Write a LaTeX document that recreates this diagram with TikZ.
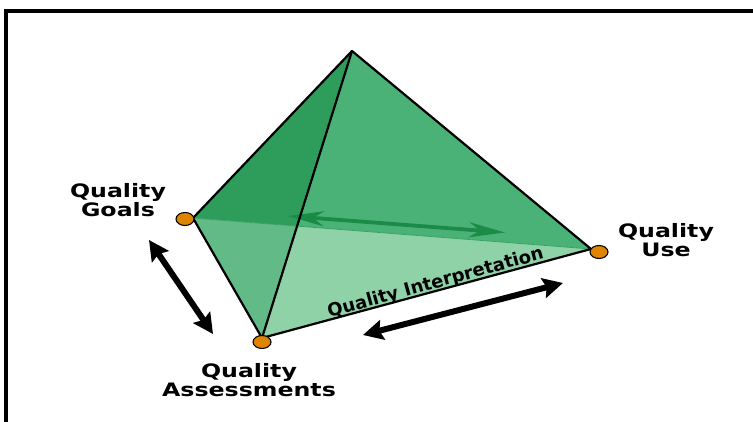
\documentclass[tikz,border=0pt]{standalone}
\usepackage{fontspec}
\newfontfamily\verdfont{DejaVu Sans}
\usepackage{xcolor}
\usepackage{tikz}
\usetikzlibrary{arrows.meta,shapes.geometric}
\definecolor{faceUL}{HTML}{2E9C5A}
\definecolor{faceUR}{HTML}{4AB276}
\definecolor{faceLL}{HTML}{62BA87}
\definecolor{faceLR}{HTML}{8FD2A8}
\definecolor{arrowgreen}{HTML}{1C8B47}
\definecolor{dotorange}{HTML}{DE8400}

\begin{document}
\begin{tikzpicture}[x=1pt,y=-1pt,
  edge/.style={line width=2.2pt,line join=round},
  dot/.style={ellipse,draw=black,line width=1.1pt,fill=dotorange,
    minimum width=18pt,minimum height=13pt,inner sep=0pt},
  lbl/.style={font=\verdfont\bfseries\fontsize{18.5}{19}\selectfont,
    align=center,xscale=1.28,inner sep=0pt},
  bigarrow/.style={line width=6pt,
    {Stealth[length=20pt,width=20pt,inset=3pt]}-{Stealth[length=20pt,width=20pt,inset=3pt]}}]
\useasboundingbox (0,0) rectangle (753,422);
% frame (top and left only)
\draw[line width=3.5pt] (753,11) -- (6,11) -- (6,422);
% corners of the tetrahedron
\coordinate (apex) at (352,51);
\coordinate (goals) at (193,218);
\coordinate (assess) at (262,338);
\coordinate (use) at (591,249);
\coordinate (mid) at (intersection of apex--assess and goals--use);
% faces
\fill[faceUL] (apex) -- (goals) -- (mid) -- cycle;
\fill[faceUR] (apex) -- (mid) -- (use) -- cycle;
\fill[faceLL] (goals) -- (assess) -- (mid) -- cycle;
\fill[faceLR] (mid) -- (assess) -- (use) -- cycle;
\draw[faceUL!80!faceLL,line width=0.8pt] (goals) -- (use);
% arrow on the back face
\coordinate (g1) at (288,216);
\coordinate (g2) at (505,232.5);
\draw[arrowgreen,line width=3.8pt,
  {Stealth[length=36pt,width=15pt,inset=11pt]}-{Stealth[length=36pt,width=15pt,inset=11pt]}]
  (g1) -- (g2);
% edges
\draw[edge] (goals) -- (apex) -- (use) -- (assess) -- cycle;
\draw[edge] (apex) -- (assess);
% corner dots
\node[dot] (dgoals) at (185,219) {};
\node[dot] (dassess) at (262,342) {};
\node[dot] (duse) at (599,252) {};
% black arrows
\coordinate (a1) at (149,240);
\coordinate (a2) at (213,334);
\coordinate (b1) at (363,335);
\coordinate (b2) at (563,283);
\draw[bigarrow] (a1) -- (a2);
\draw[bigarrow] (b1) -- (b2);
% labels
\node[lbl] (tgoals) at (118,200.5) {Quality\\Goals};
\node[lbl] (tuse) at (666,240) {Quality\\Use};
\node[lbl] (tassess) at (249,380.5) {Quality\\Assessments};
\node[font=\verdfont\bfseries\fontsize{18}{19}\selectfont,rotate=15.4,
  anchor=base,inner sep=0pt] (tinterp) at (437,288) {Quality Interpretation};
\end{tikzpicture}
\end{document}
